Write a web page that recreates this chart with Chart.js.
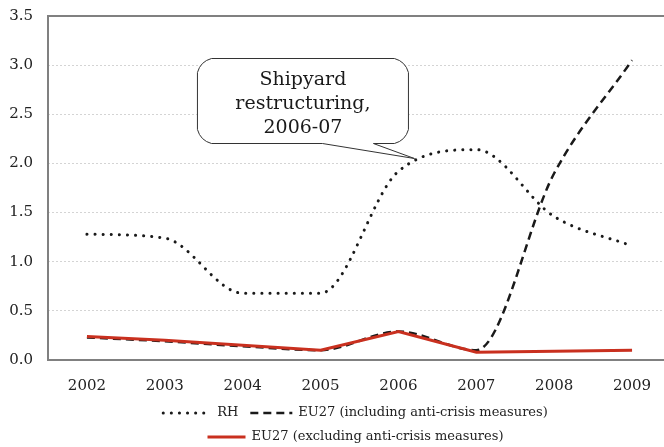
<!DOCTYPE html>
<html>
<head>
<meta charset="utf-8">
<script src="https://cdn.jsdelivr.net/npm/chart.js@4.4.1/dist/chart.umd.min.js"></script>
<style>
  html, body { margin: 0; padding: 0; background: #fff; overflow: hidden; }
  #wrap { width: 672px; height: 447px; }
</style>
</head>
<body>
<div id="wrap"><canvas id="chart"></canvas></div>
<script>
const years = ["2002", "2003", "2004", "2005", "2006", "2007", "2008", "2009"];
const rhValues = [1.28, 1.24, 0.68, 0.68, 1.92, 2.14, 1.46, 1.16];
const eu27Incl = [0.23, 0.19, 0.14, 0.10, 0.29, 0.10, 1.90, 3.05];
const eu27Excl = [0.24, 0.20, 0.15, 0.10, 0.29, 0.08, 0.09, 0.10];
const seriesNames = ["RH", "EU27 (including anti-crisis measures)", "EU27 (excluding anti-crisis measures)"];
const calloutLines = ["Shipyard", "restructuring,", "2006-07"];

const serif = "'DejaVu Serif', serif";

// frame: left, bottom and top lines of the plot area
const framePlugin = {
  id: "frame",
  afterDatasetsDraw(chart) {
    const { ctx, chartArea: a } = chart;
    ctx.save();
    ctx.strokeStyle = "#808080";
    ctx.lineWidth = 2;
    ctx.beginPath();
    ctx.moveTo(a.right + 2, a.top);
    ctx.lineTo(a.left, a.top);
    ctx.lineTo(a.left, a.bottom);
    ctx.lineTo(a.right + 2, a.bottom);
    ctx.stroke();
    ctx.restore();
  }
};

// speech bubble pointing at the 2006-07 peak
const calloutPlugin = {
  id: "callout",
  afterDraw(chart) {
    const { ctx } = chart;
    const x = chart.scales.x, y = chart.scales.y;
    const tipX = x.getPixelForValue(4) + 16;
    const tipY = y.getPixelForValue(2.05);
    const l = tipX - 217, r = tipX - 6, t = tipY - 100, b = tipY - 15;
    const rad = 14;
    ctx.save();
    ctx.beginPath();
    ctx.moveTo(l + rad, t);
    ctx.lineTo(r - rad, t);
    ctx.quadraticCurveTo(r - 3, t + 3, r, t + rad);
    ctx.lineTo(r, b - rad);
    ctx.quadraticCurveTo(r - 3, b - 3, r - rad, b);
    ctx.lineTo(tipX - 41, b);
    ctx.lineTo(tipX, tipY);
    ctx.lineTo(tipX - 92, b);
    ctx.lineTo(l + rad, b);
    ctx.quadraticCurveTo(l + 3, b - 3, l, b - rad);
    ctx.lineTo(l, t + rad);
    ctx.quadraticCurveTo(l + 3, t + 3, l + rad, t);
    ctx.closePath();
    ctx.fillStyle = "#fff";
    ctx.fill();
    ctx.strokeStyle = "#333";
    ctx.lineWidth = 1;
    ctx.stroke();
    ctx.fillStyle = "#1a1a1a";
    ctx.font = "19px " + serif;
    ctx.textAlign = "center";
    ctx.textBaseline = "middle";
    const cx = (l + r) / 2;
    calloutLines.forEach((line, i) => {
      ctx.fillText(line, cx, t + 22 + i * 24);
    });
    ctx.restore();
  }
};

// two-row legend under the axis
const legendPlugin = {
  id: "twoRowLegend",
  afterDraw(chart) {
    const { ctx, chartArea: a } = chart;
    const ds = chart.data.datasets;
    const rows = [[0, 1], [2]];
    const sample = [48, 42, 38];
    ctx.save();
    ctx.font = "13px " + serif;
    ctx.textBaseline = "middle";
    ctx.fillStyle = "#222";
    const center = (a.left + a.right) / 2 - 4;
    rows.forEach((row, ri) => {
      const yy = 413 + ri * 24;
      let total = 0;
      row.forEach((di, k) => {
        total += sample[di] + 6 + ctx.measureText(ds[di].label).width;
        if (k < row.length - 1) total += 12;
      });
      let xx = center - total / 2;
      row.forEach((di) => {
        const d = ds[di];
        ctx.save();
        ctx.strokeStyle = d.borderColor;
        ctx.lineWidth = d.borderWidth;
        ctx.lineCap = d.borderCapStyle || "butt";
        ctx.setLineDash(d.borderDash || []);
        ctx.beginPath();
        ctx.moveTo(xx, yy);
        ctx.lineTo(xx + sample[di], yy);
        ctx.stroke();
        ctx.restore();
        xx += sample[di] + 6;
        ctx.fillText(d.label, xx, yy);
        xx += ctx.measureText(d.label).width + 12;
      });
    });
    ctx.restore();
  }
};

new Chart(document.getElementById("chart"), {
  type: "line",
  data: {
    labels: years,
    datasets: [
      {
        label: seriesNames[0],
        data: rhValues,
        borderColor: "#1a1a1a",
        borderWidth: 3,
        borderDash: [0.1, 8],
        borderCapStyle: "round",
        cubicInterpolationMode: "monotone",
        pointRadius: 0,
        order: 2
      },
      {
        label: seriesNames[1],
        data: eu27Incl,
        borderColor: "#1a1a1a",
        borderWidth: 2.5,
        borderDash: [8, 5],
        cubicInterpolationMode: "monotone",
        pointRadius: 0,
        order: 1
      },
      {
        label: seriesNames[2],
        data: eu27Excl,
        borderColor: "#c9301f",
        borderWidth: 3,
        tension: 0,
        pointRadius: 0,
        order: 0
      }
    ]
  },
  options: {
    responsive: true,
    maintainAspectRatio: false,
    animation: false,
    layout: { padding: { left: 0, top: 16, right: 1, bottom: 57 } },
    plugins: {
      legend: { display: false },
      tooltip: { enabled: false }
    },
    scales: {
      x: {
        offset: true,
        grid: { display: false },
        border: { display: false },
        ticks: { color: "#222", padding: 9, font: { family: serif, size: 15 } },
        afterFit(s) {
          s.height = 30;
          s.paddingLeft = 0;
          s.paddingRight = 0;
        }
      },
      y: {
        min: 0,
        max: 3.5,
        grid: { color: "#d4d4d4", lineWidth: 1, drawTicks: false },
        border: { display: false, dash: [2, 2] },
        ticks: {
          stepSize: 0.5,
          color: "#222",
          padding: 15,
          font: { family: serif, size: 15 },
          callback: (v) => Number(v).toFixed(1)
        },
        afterFit(s) {
          s.width = 48;
          s.paddingTop = 0;
          s.paddingBottom = 0;
        }
      }
    }
  },
  plugins: [framePlugin, calloutPlugin, legendPlugin]
});
</script>
</body>
</html>
